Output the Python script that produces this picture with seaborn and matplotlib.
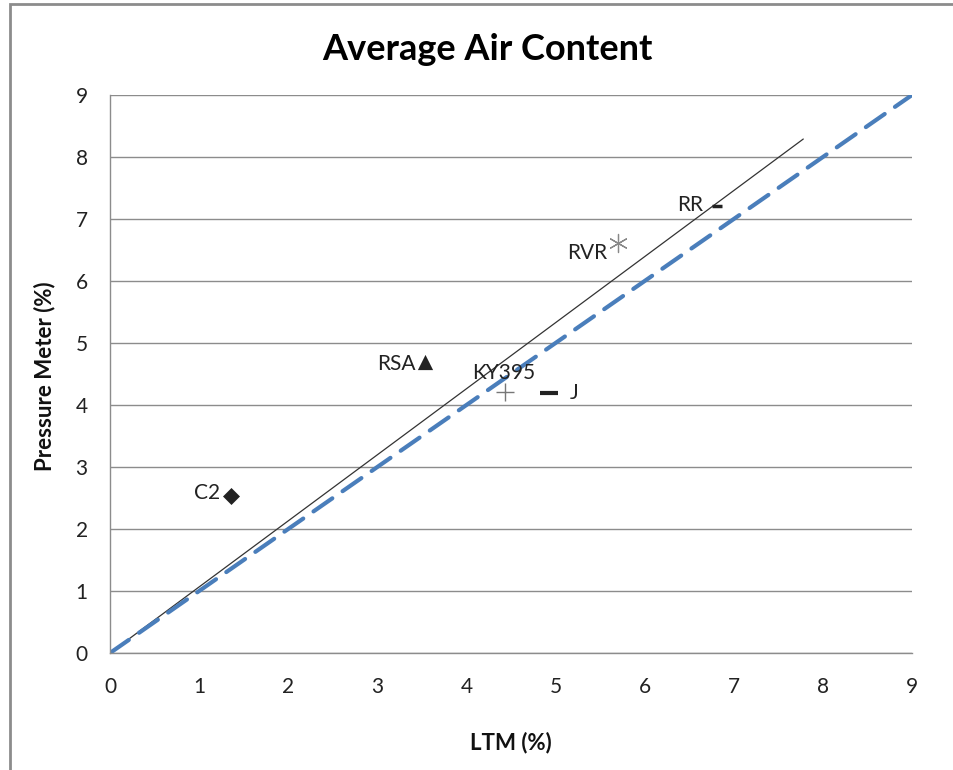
import matplotlib
matplotlib.use("Agg")
import matplotlib.pyplot as plt
import seaborn as sns
import pandas as pd
from matplotlib.patches import Rectangle

labels = ["C2", "RSA", "KY395", "J", "RVR", "RR"]
ltm = [1.36, 3.54, 4.43, 4.93, 5.70, 6.81]
pressure = [2.53, 4.69, 4.21, 4.19, 6.61, 7.21]
markers = ["D", "^", "+", "_", (6, 2, 0), "_"]
mcolors = ["#222222", "#222222", "#777777", "#222222", "#888888", "#222222"]
msizes = [75, 120, 170, 170, 170, 60]
mwidths = [0, 0, 1.0, 3.0, 0.9, 2.5]
# label offsets (points)
offsets = [(-8, 2), (-7, -1), (-1, 14), (15, 0), (-8, -7), (-10, 1)]
has = ["right", "right", "center", "left", "right", "right"]

trend_x = [0, 7.78]
trend_y = [0, 8.29]
equal_x = [0, 9]
equal_y = [0, 9]
ticks = list(range(0, 10))

sns.set_theme(style="white")
plt.rcParams["font.family"] = ["Lato", "DejaVu Sans"]

fig = plt.figure(figsize=(9.54, 7.70), dpi=100)
ax = fig.add_axes([110 / 954, 1 - 653 / 770, (912 - 110) / 954, (653 - 95) / 770])

# figure border
fig.patches.append(Rectangle((10 / 954, -0.1), 1.2, 1 - 4 / 770 + 0.1,
                             transform=fig.transFigure, fill=False,
                             edgecolor="#8c8c8c", linewidth=2.0))

df_eq = pd.DataFrame({"x": equal_x, "y": equal_y})
df_tr = pd.DataFrame({"x": trend_x, "y": trend_y})
sns.lineplot(data=df_tr, x="x", y="y", ax=ax, color="#333333", linewidth=0.9)
sns.lineplot(data=df_eq, x="x", y="y", ax=ax, color="#4a7ebb", linewidth=3.0)
ax.lines[-1].set_dashes([5.5, 3.0])
ax.lines[-1].set_dash_capstyle("round")

for i in range(len(labels)):
    d = pd.DataFrame({"x": [ltm[i]], "y": [pressure[i]]})
    sns.scatterplot(data=d, x="x", y="y", ax=ax, marker=markers[i],
                    color=mcolors[i], s=msizes[i], linewidth=mwidths[i],
                    edgecolor=mcolors[i] if mwidths[i] == 0 else None, zorder=5)
    ax.annotate(labels[i], (ltm[i], pressure[i]), xytext=offsets[i],
                textcoords="offset points", ha=has[i], va="center",
                fontsize=15, color="#222222")

ax.set_xlim(0, 9)
ax.set_ylim(0, 9)
ax.set_xticks(ticks)
ax.set_yticks(ticks)
ax.tick_params(axis="x", labelsize=15, pad=17, length=0, colors="#222222")
ax.tick_params(axis="y", labelsize=15, pad=16, length=0, colors="#222222")
ax.grid(axis="y", color="#8c8c8c", linewidth=1.0)
ax.grid(axis="x", visible=False)
ax.set_axisbelow(True)
for s in ["top", "right"]:
    ax.spines[s].set_visible(False)
for s in ["left", "bottom"]:
    ax.spines[s].set_color("#8c8c8c")
    ax.spines[s].set_linewidth(1.0)

ax.set_xlabel("")
ax.set_ylabel("")
fig.text(511 / 954, 1 - 743 / 770, "LTM (%)", ha="center", va="center",
         fontsize=16, fontweight="bold", color="#111111")
fig.text(45 / 954, 1 - 376 / 770, "Pressure Meter (%)", ha="center", va="center",
         rotation=90, fontsize=16, fontweight="bold", color="#111111")
fig.text(487 / 954, 1 - 50 / 770, "Average Air Content", ha="center", va="center",
         fontsize=26, fontweight="bold", color="#000000")

fig.savefig("out.png", dpi=100)
